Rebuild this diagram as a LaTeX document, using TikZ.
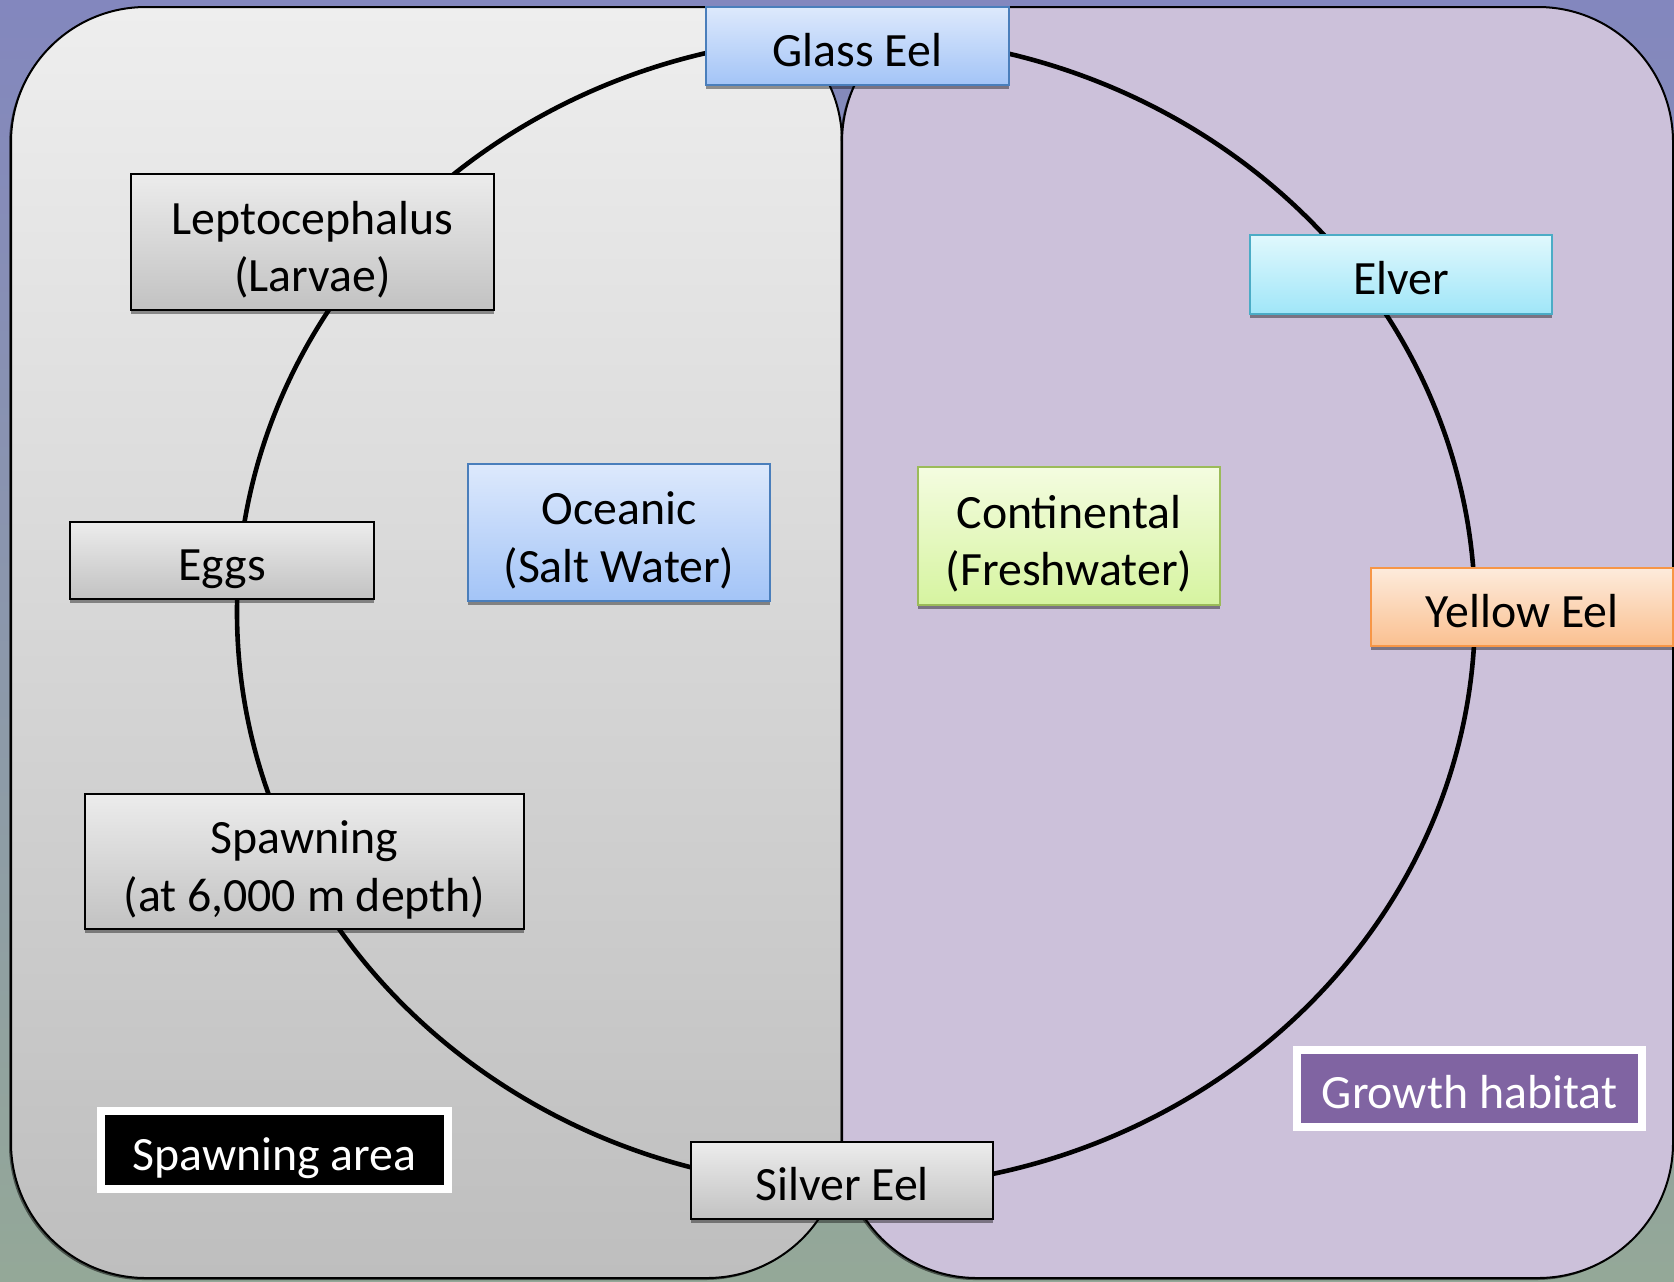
\documentclass[tikz,border=0pt]{standalone}
\usepackage{fontspec}
\setmainfont{Carlito}
\usepackage{tikz}
\usetikzlibrary{shadows}

\definecolor{bgtop}{RGB}{131,135,190}
\definecolor{bgbot}{RGB}{148,168,152}
\definecolor{seatop}{RGB}{238,238,238}
\definecolor{seabot}{RGB}{190,190,190}
\definecolor{landfill}{RGB}{204,193,218}
\definecolor{greytop}{RGB}{236,236,236}
\definecolor{greybot}{RGB}{194,194,194}
\definecolor{bluetop}{RGB}{221,233,252}
\definecolor{bluebot}{RGB}{163,196,247}
\definecolor{blueline}{RGB}{74,126,187}
\definecolor{greentop}{RGB}{244,252,224}
\definecolor{greenbot}{RGB}{214,244,160}
\definecolor{greenline}{RGB}{155,187,89}
\definecolor{cyantop}{RGB}{224,248,253}
\definecolor{cyanbot}{RGB}{160,230,248}
\definecolor{cyanline}{RGB}{75,172,198}
\definecolor{orangetop}{RGB}{253,235,220}
\definecolor{orangebot}{RGB}{250,192,144}
\definecolor{orangeline}{RGB}{247,150,70}
\definecolor{growthfill}{RGB}{128,100,162}

\begin{document}
\begin{tikzpicture}[x=0.5pt,y=-0.5pt,
          font=\fontsize{23.9}{28.8}\selectfont,
          panel/.style={draw=black, line width=1pt, rounded corners=67.5pt,
            drop shadow={shadow xshift=-1pt, shadow yshift=-1pt, fill=black, opacity=0.5}},
          stage/.style={rectangle, align=center, inner sep=0pt, text height=22.2pt, text depth=2pt,
            drop shadow={shadow xshift=0pt, shadow yshift=-2pt, fill=black, opacity=0.4}},
          twolines/.style={text height=51.6pt, text depth=2pt},
          greybox/.style={stage, draw=black, line width=1.2pt, top color=greytop, bottom color=greybot},
          bluebox/.style={stage, draw=blueline, line width=1pt, top color=bluetop, bottom color=bluebot},
          greenbox/.style={stage, draw=greenline, line width=1pt, top color=greentop, bottom color=greenbot},
          cyanbox/.style={stage, draw=cyanline, line width=1pt, top color=cyantop, bottom color=cyanbot},
          orangebox/.style={stage, draw=orangeline, line width=1pt, top color=orangetop, bottom color=orangebot},
          areatag/.style={stage, draw=white, line width=4pt, text=white},
          cycleline/.style={draw=black, line width=2.3pt}]
          \useasboundingbox (0,0) rectangle (1674,1281);
          % background and the two habitats
          \shade[top color=bgtop, bottom color=bgbot] (0,0) rectangle (1674,1281);
          \shade[panel, top color=seatop, bottom color=seabot] (11,7) rectangle (842,1278);
          \filldraw[panel, fill=landfill] (842,7) rectangle (1673,1278);
          % life cycle
          \coordinate (ctr) at (856,612);
          \draw[cycleline] (ctr) ellipse [x radius=619, y radius=576];
          \node[bluebox, minimum width=151.5pt, minimum height=39pt] (glass) at (857.5,46) {Glass Eel};
          \node[cyanbox, minimum width=151pt, minimum height=39.5pt] (elver) at (1401,274.5) {Elver};
          \node[orangebox, minimum width=151pt, minimum height=39pt] (yellow) at (1522,607) {Yellow Eel};
          \node[greybox, minimum width=151pt, minimum height=38.5pt] (silver) at (842,1180.5) {Silver Eel};
          \node[greybox, twolines, minimum width=219.5pt, minimum height=67.5pt] (spawn) at (304.5,861.5) {Spawning\\(at 6,000 m depth)};
          \node[greybox, minimum width=152pt, minimum height=38.5pt] (eggs) at (222,560.5) {Eggs};
          \node[greybox, twolines, minimum width=181.5pt, minimum height=68pt] (lepto) at (312.5,242) {Leptocephalus\\(Larvae)};
          % habitats
          \node[bluebox, twolines, minimum width=151pt, minimum height=68.5pt] (ocean) at (619,532.5) {Oceanic\\(Salt Water)};
          \node[greenbox, twolines, minimum width=151pt, minimum height=69pt] (cont) at (1069,536) {Continental\\(Freshwater)};
          \node[areatag, fill=black, minimum width=173.5pt, minimum height=39pt] (spawnarea) at (274.5,1150) {Spawning area};
          \node[areatag, fill=growthfill, minimum width=172.5pt, minimum height=38.5pt] (growth) at (1469.5,1088.5) {Growth habitat};
        \end{tikzpicture}
\end{document}
